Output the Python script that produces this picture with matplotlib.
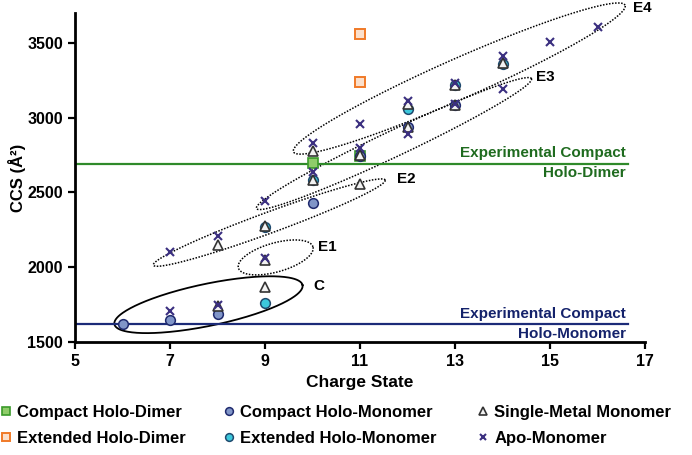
import numpy as np
import matplotlib
matplotlib.use("Agg")
import matplotlib.pyplot as plt

plt.rcParams['font.family'] = ['Liberation Sans', 'DejaVu Sans']
plt.rcParams['font.weight'] = 'bold'
plt.rcParams['axes.labelweight'] = 'bold'

# charge state / CCS (A^2)
cd_z = [10, 11]
cd_ccs = [2695, 2745]
ed_z = [11, 11]
ed_ccs = [3240, 3555]
cm_z = [6, 7, 8, 10, 11, 12, 13]
cm_ccs = [1620, 1650, 1690, 2430, 2745, 2935, 3085]
em_z = [9, 9, 10, 12, 13, 14]
em_ccs = [1765, 2270, 2580, 3055, 3215, 3360]
sm_z = [8, 9, 8, 9, 9, 10, 10, 11, 11, 12, 12, 13, 13, 14]
sm_ccs = [1745, 1870, 2150, 2050, 2275, 2585, 2778, 2750, 2555, 2935, 3090, 3085, 3218, 3365]
apo_z = [7, 8, 7, 8, 9, 9, 10, 10, 11, 11, 12, 12, 13, 13, 14, 14, 15, 16]
apo_ccs = [1710, 1750, 2105, 2212, 2062, 2444, 2638, 2832, 2958, 2800, 2893, 3112,
           3092, 3228, 3188, 3408, 3504, 3607]

exp_dimer = 2690
exp_monomer = 1620

xticks = [5, 7, 9, 11, 13, 15, 17]
yticks = [1500, 2000, 2500, 3000, 3500]

fig = plt.figure(figsize=(6.92, 4.55), dpi=100)
ax = fig.add_axes([75 / 692, 1 - 342.3 / 455, 570 / 692, 329.6 / 455])
ax.set_xlim(5, 17)
ax.set_ylim(1500, 3700)

green = '#2f8a2a'
navy = '#1c2b78'

ax.plot([5, 16.65], [exp_dimer, exp_dimer], color=green, lw=1.6, zorder=2)
ax.plot([5, 16.65], [exp_monomer, exp_monomer], color=navy, lw=1.6, zorder=2)
ax.text(16.6, exp_dimer + 75, 'Experimental Compact', color='#1f6b1f', fontsize=11,
        ha='right', va='center')
ax.text(16.6, exp_dimer - 60, 'Holo-Dimer', color='#1f6b1f', fontsize=11,
        ha='right', va='center')
ax.text(16.6, exp_monomer + 70, 'Experimental Compact', color='#14226b', fontsize=11,
        ha='right', va='center')
ax.text(16.6, exp_monomer - 62, 'Holo-Monomer', color='#14226b', fontsize=11,
        ha='right', va='center')


def ring(p1, p2, b, **kw):
    # ellipse with major axis p1-p2 (data), semi-minor b in pixels
    d1, d2 = ax.transData.transform([p1, p2])
    c = (d1 + d2) / 2
    u = (d2 - d1) / 2
    n = np.array([-u[1], u[0]]) / np.hypot(*u) * b
    t = np.linspace(0, 2 * np.pi, 300)
    pts = c + np.outer(np.cos(t), u) + np.outer(np.sin(t), n)
    xy = ax.transData.inverted().transform(pts)
    ax.plot(xy[:, 0], xy[:, 1], color='k', clip_on=False, zorder=1, **kw)


dots = dict(lw=1.1, ls=(0, (1, 1)))
ring((5.83, 1620), (9.79, 1882), 21, lw=1.3)
ring((8.44, 1996), (10.01, 2137), 14.5, **dots)
ring((6.65, 2015), (11.53, 2583), 10.5, **dots)
ring((8.82, 2393), (14.61, 3260), 13, **dots)
ring((9.6, 2771), (16.58, 3750), 20, **dots)

for lab, x, y in [('C', 10.01, 1875), ('E1', 10.12, 2135), ('E2', 11.78, 2589),
                  ('E3', 14.71, 3269), ('E4', 16.75, 3729)]:
    ax.text(x, y, lab, fontsize=11, ha='left', va='center', clip_on=False)

h1, = ax.plot(cd_z, cd_ccs, 's', ms=6.5, mfc='#8fcc6a', mec='#3a9a2a', mew=1.2,
              ls='none', label='Compact Holo-Dimer', zorder=3)
h2, = ax.plot(ed_z, ed_ccs, 's', ms=6.5, mfc='#fbe0cc', mec='#f07a28', mew=1.4,
              ls='none', label='Extended Holo-Dimer', zorder=3)
h3, = ax.plot(cm_z, cm_ccs, 'o', ms=7, mfc='#8095c8', mec='#1f2a6e', mew=1.1,
              ls='none', label='Compact Holo-Monomer', zorder=3)
h4, = ax.plot(em_z, em_ccs, 'o', ms=7, mfc='#3cc8dc', mec='#1f4a6e', mew=1.1,
              ls='none', label='Extended Holo-Monomer', zorder=3)
h5, = ax.plot(sm_z, sm_ccs, '^', ms=7, mfc='#f2f2f2', mec='#333333', mew=1.2,
              ls='none', label='Single-Metal Monomer', zorder=4)
h6, = ax.plot(apo_z, apo_ccs, 'x', ms=6, mec='#3b2f80', mew=1.5,
              ls='none', label='Apo-Monomer', zorder=5)

for s in ['top', 'right']:
    ax.spines[s].set_visible(False)
for s in ['left', 'bottom']:
    ax.spines[s].set_linewidth(2)
ax.set_xticks(xticks)
ax.set_yticks(yticks)
ax.tick_params(width=1.6, length=5, labelsize=11.5, direction='out')
ax.set_xlabel('Charge State', fontsize=12.5, labelpad=4)
ax.set_ylabel('CCS (Å²)', fontsize=12, labelpad=1)

for hs, xp in [((h1, h2), 0), ((h3, h4), 223), ((h5, h6), 477)]:
    fig.legend(handles=list(hs), loc='center left', bbox_to_anchor=(xp / 692, 1 - 425.5 / 455),
               frameon=False, fontsize=12, handlelength=0.7, handletextpad=0.35,
               labelspacing=0.65, borderpad=0, borderaxespad=0, markerscale=0.8)

fig.savefig('out.png', dpi=100)
